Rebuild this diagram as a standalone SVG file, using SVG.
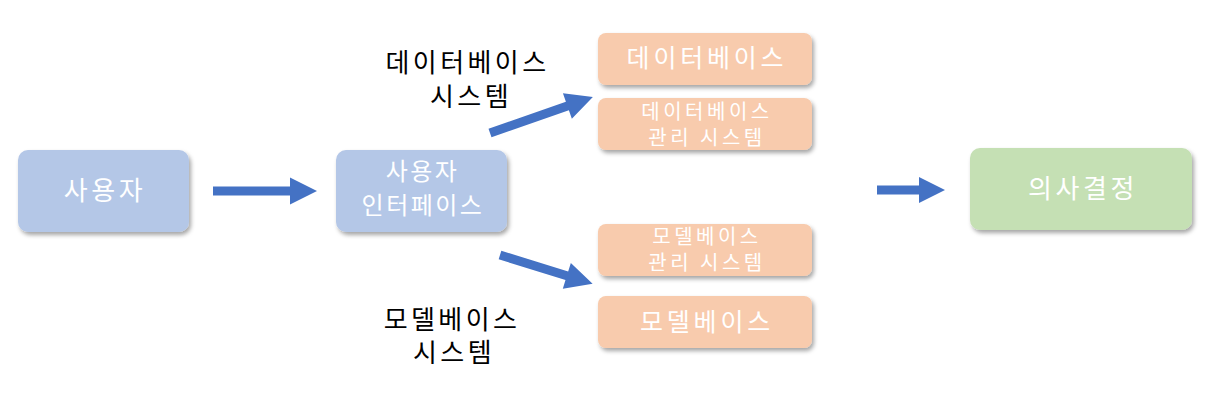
<svg xmlns="http://www.w3.org/2000/svg" width="1225" height="400" viewBox="0 0 1225 400">
<defs>
<filter id="sh" x="-10%" y="-20%" width="130%" height="150%">
<feDropShadow dx="2" dy="3" stdDeviation="2" flood-color="#000" flood-opacity="0.35"/>
</filter>
<style>
.blue{fill:#B4C7E7;filter:url(#sh)}
.orange{fill:#F8CBAD;filter:url(#sh)}
.green{fill:#C5E0B4;filter:url(#sh)}
.wt{fill:#fff;font-family:"Noto Sans CJK KR","Noto Sans",sans-serif;text-anchor:middle}
.bt{fill:#000;font-family:"Noto Sans CJK KR","Noto Sans",sans-serif;text-anchor:middle;font-size:26px;letter-spacing:3.4px}
.l26{font-size:26px;letter-spacing:3.6px}
.l25{font-size:25px;letter-spacing:3.8px}
.l24{font-size:24px;letter-spacing:2.5px}
.l20{font-size:20px;letter-spacing:3.5px}
.arr{fill:#4472C4}
</style>
</defs>
<rect width="1225" height="400" fill="#fff"/>
<g id="connectors">
<polygon class="arr" transform="translate(213,191)" points="0,-4.5 77,-4.5 77,-13.5 104,0 77,13.5 77,4.5 0,4.5"/>
<polygon class="arr" transform="translate(490,133) rotate(-19.3)" points="0,-4.5 82,-4.5 82,-13.5 109,0 82,13.5 82,4.5 0,4.5"/>
<polygon class="arr" transform="translate(500,255) rotate(17.3)" points="0,-4.5 70,-4.5 70,-13.5 97,0 70,13.5 70,4.5 0,4.5"/>
<polygon class="arr" transform="translate(877,190)" points="0,-4.5 42,-4.5 42,-13 68,0 42,13 42,4.5 0,4.5"/>
</g>
<g id="user">
<rect class="blue" x="18" y="150" width="171" height="82" rx="10"/>
<text class="wt l26" x="105" y="200">사용자</text>
</g>
<g id="ui">
<rect class="blue" x="336" y="150" width="171" height="82" rx="10"/>
<text class="wt l24" x="422.5" y="180">사용자</text>
<text class="wt l24" x="423" y="214">인터페이스</text>
</g>
<g id="db-label">
<text class="bt" x="467.5" y="72">데이터베이스</text>
<text class="bt" x="471" y="106">시스템</text>
</g>
<g id="mb-label">
<text class="bt" x="452" y="329">모델베이스</text>
<text class="bt" x="454" y="362">시스템</text>
</g>
<g id="db">
<rect class="orange" x="598" y="33" width="214" height="52" rx="8"/>
<text class="wt l25" x="707" y="67">데이터베이스</text>
</g>
<g id="dbms">
<rect class="orange" x="598" y="98" width="214" height="52" rx="8"/>
<text class="wt l20" x="707" y="119">데이터베이스</text>
<text class="wt l20" x="707" y="145">관리 시스템</text>
</g>
<g id="mbms">
<rect class="orange" x="598" y="224" width="214" height="52" rx="8"/>
<text class="wt l20" x="707" y="244">모델베이스</text>
<text class="wt l20" x="707" y="270">관리 시스템</text>
</g>
<g id="mb">
<rect class="orange" x="598" y="296" width="214" height="52" rx="8"/>
<text class="wt l25" x="707" y="331">모델베이스</text>
</g>
<g id="decision">
<rect class="green" x="970" y="148" width="222" height="82" rx="10"/>
<text class="wt l26" x="1083" y="198">의사결정</text>
</g>
</svg>
